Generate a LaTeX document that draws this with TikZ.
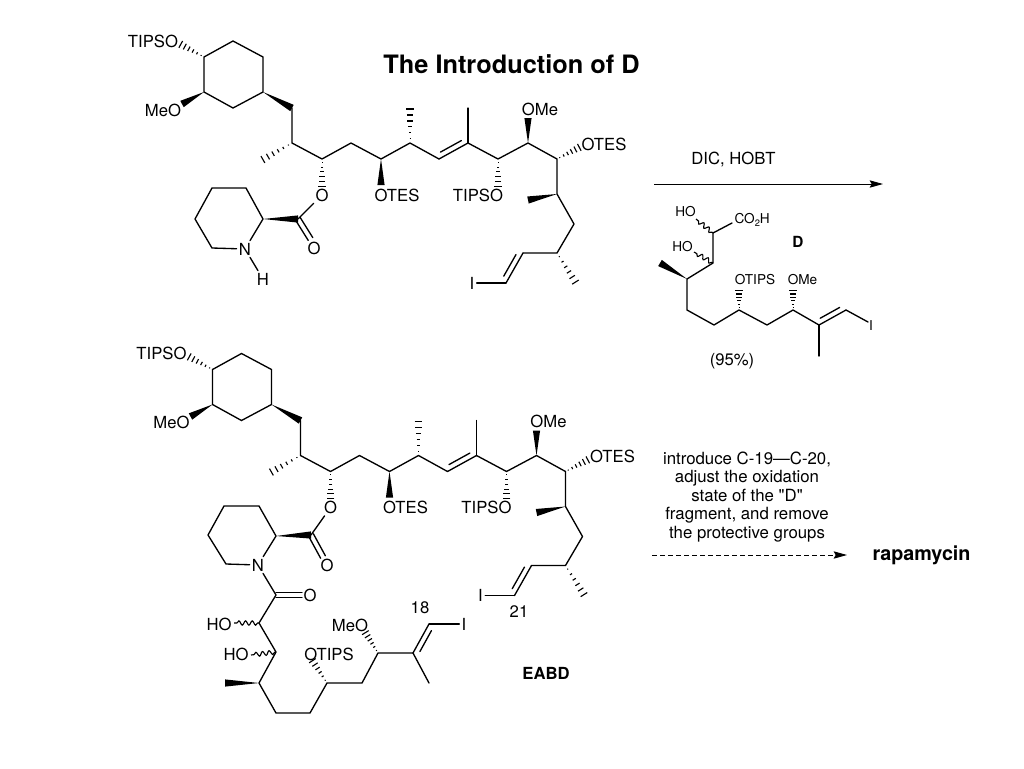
\documentclass[tikz,border=0pt]{standalone}
\usepackage{fontspec}
\setmainfont{TeX Gyre Heros}
\newfontfamily\plainq{TeX Gyre Heros}
\usetikzlibrary{calc,arrows.meta,decorations.pathmorphing}
\newcommand{\wdg}[3][2.7pt]{\fill[black] (#2) -- ($(#3)!#1!90:(#2)$) -- ($(#3)!#1!-90:(#2)$) -- cycle;}
\newcommand{\hsh}[2]{\foreach \t in {.12,.29,.46,.63,.80,.97}{\pgfmathsetmacro\hw{\t*3}\draw[line width=.85pt,line cap=butt] ($(#1)!\t!(#2)!\hw pt!90:(#2)$) -- ($(#1)!\t!(#2)!\hw pt!-90:(#2)$);}}
\newcommand{\dbl}[2]{\draw[bond] (#1) -- (#2); \draw[bond] ($(#1)!.14!(#2)!4pt!90:(#2)$) -- ($(#1)!.86!(#2)!4pt!90:(#2)$);}
\newcommand{\sym}[2]{\draw[bond] ($(#1)!2pt!90:(#2)$) -- ($(#2)!2pt!-90:(#1)$); \draw[bond] ($(#1)!2pt!-90:(#2)$) -- ($(#2)!2pt!90:(#1)$);}
\newcommand{\wavy}[2]{\draw[wavyb] (#1) -- (#2);}
% shared skeleton
\newcommand{\skeleton}[1]{
  \coordinate (#1a1) at (204,57); \coordinate (#1a2) at (233,41); \coordinate (#1a3) at (263,57);
  \coordinate (#1a4) at (263,92); \coordinate (#1a5) at (233,108); \coordinate (#1a6) at (204,92);
  \coordinate (#1b1) at (292,108); \coordinate (#1b2) at (292,143); \coordinate (#1b2m) at (262,160);
  \coordinate (#1b3) at (322,159); \coordinate (#1b4) at (351,143); \coordinate (#1b5) at (381,159);
  \coordinate (#1b6) at (410,143); \coordinate (#1b6m) at (410,108); \coordinate (#1b7) at (439,159);
  \coordinate (#1b8) at (468,143); \coordinate (#1b8m) at (468,108); \coordinate (#1b9) at (498,159);
  \coordinate (#1b10) at (528,143); \coordinate (#1b11) at (557,159); \coordinate (#1b12) at (557,194);
  \coordinate (#1b12m) at (528,200); \coordinate (#1b13) at (574,224); \coordinate (#1b14) at (557,253);
  \coordinate (#1b14m) at (576,283); \coordinate (#1b15) at (523,253); \coordinate (#1b16) at (506,283);
  \coordinate (#1e1) at (180,44); \coordinate (#1e2) at (182,104); \coordinate (#1e3) at (322,187);
  \coordinate (#1e4) at (381,185); \coordinate (#1e5) at (498,187); \coordinate (#1e6) at (528,118);
  \coordinate (#1e7) at (580,147);
  \node[atom] (#1tips) at (153,41) {TIPSO};
  \node[atom] (#1meo) at (163,110) {MeO};
  \node[atom] (#1oes) at (322,195) {O};
  \node[atom] (#1otes) at (397,195) {OTES};
  \node[atom] (#1tipsb) at (478,195) {TIPSO};
  \node[atom] (#1ome) at (540,109) {OMe};
  \node[atom] (#1otesb) at (604,144) {OTES};
  \node[atom] (#1iod) at (472,283) {I};
  \draw[bond,line join=miter] (#1a1) -- (#1a2) -- (#1a3) -- (#1a4) -- (#1a5) -- (#1a6) -- cycle;
  \draw[bond] (#1b1) -- (#1b2) -- (#1b3) -- (#1b4) -- (#1b5) -- (#1b6) -- (#1b7);
  \draw[bond] (#1b8) -- (#1b9) -- (#1b10) -- (#1b11) -- (#1b12) -- (#1b13) -- (#1b14) -- (#1b15);
  \draw[bond] (#1b8) -- (#1b8m);
  \draw[bond] (#1b16) -- (#1iod.east);
  \dbl{#1b7}{#1b8}
  \dbl{#1b16}{#1b15}
  \wdg{#1a4}{#1b1}
  \wdg{#1a6}{#1e2}
  \wdg{#1b5}{#1e4}
  \wdg{#1b10}{#1e6}
  \wdg{#1b12}{#1b12m}
  \hsh{#1a1}{#1e1}
  \hsh{#1b2}{#1b2m}
  \hsh{#1b3}{#1e3}
  \hsh{#1b6}{#1b6m}
  \hsh{#1b9}{#1e5}
  \hsh{#1b11}{#1e7}
  \hsh{#1b14}{#1b14m}
}
\begin{document}
\begin{tikzpicture}[x=.75pt,y=-.75pt,
  bond/.style={line width=1pt,line cap=round,line join=round},
  wavyb/.style={line width=.85pt,decorate,decoration={snake,amplitude=1.6pt,segment length=5pt,pre length=1pt,post length=1pt}},
  atom/.style={inner sep=0pt,outer sep=1.8pt,text height=9pt,text depth=0pt,font=\fontsize{12.5}{14}\selectfont},
  small/.style={inner sep=0pt,outer sep=1.5pt,text height=7.4pt,text depth=0pt,font=\fontsize{10.2}{12}\selectfont},
  rxn/.style={line width=.7pt,-{Stealth[length=10pt,width=5.5pt,inset=1.5pt]}}]
\useasboundingbox (0,0) rectangle (1024,768);
\node[inner sep=0pt,font=\fontsize{19}{22}\selectfont\bfseries] (title) at (511.5,64) {The Introduction of D};

% ---- upper structure
\skeleton{t}
\coordinate (tp1) at (263,219); \coordinate (tp2) at (246,188); \coordinate (tp3) at (212,188);
\coordinate (tp4) at (195,219); \coordinate (tp5) at (212,248); \coordinate (tc) at (298,219);
\coordinate (tce) at (310.5,239);
\node[atom] (tn) at (245,249) {N};
\node[atom] (th) at (263,279) {H};
\node[atom] (tod) at (314,248) {O};
\draw[bond] (tn) -- (tp5) -- (tp4) -- (tp3) -- (tp2) -- (tp1) -- (tn);
\draw[bond] (tn) -- (th);
\draw[bond] (tc) -- (toes);
\wdg{tp1}{tc}
\sym{tc}{tce}

% ---- reagent D
\node[atom] (dic) at (733.5,158) {DIC, HOBT};
\coordinate (arrA) at (654,184); \coordinate (arrB) at (883,184);
\draw[rxn] (arrA) -- (arrB);
\coordinate (d1) at (713,233); \coordinate (d2) at (713,263); \coordinate (d3) at (687,279);
\coordinate (d3m) at (660,263); \coordinate (d4) at (687,310); \coordinate (d5) at (714,325);
\coordinate (d6) at (739,310); \coordinate (d7) at (767,325); \coordinate (d8) at (793,310);
\coordinate (d9) at (819,325); \coordinate (d10) at (846,310); \coordinate (d9m) at (819,356);
\coordinate (dw1) at (696,219); \coordinate (dw2) at (694,252);
\coordinate (dh1) at (739,290); \coordinate (dh2) at (793,290);
\coordinate (dco) at (732,223);
\coordinate (di) at (868,322);
\node[small] (dho1) at (685.5,212) {HO};
\node[small] (dho2) at (682.5,247) {HO};
\node[small,anchor=west,outer sep=0pt] (dco2h) at (734.5,219) {CO\raisebox{-.2em}{\fontsize{7}{8}\selectfont 2}H};
\node[small] (dotips) at (755,280) {OTIPS};
\node[small] (dome) at (802.5,280) {OMe};
\node[small] (diod) at (871,326) {I};
\node[inner sep=0pt,font=\fontsize{11.5}{13}\selectfont\bfseries] (dlab) at (798,242) {D};
\node[atom] (yield) at (732,359) {(95\%)};
\draw[bond] (dco) -- (d1) -- (d2) -- (d3) -- (d4) -- (d5) -- (d6) -- (d7) -- (d8) -- (d9);
\draw[bond] (d10) -- (di);
\draw[bond] (d9) -- (d9m);
\dbl{d9}{d10}
\wdg{d3}{d3m}
\hsh{d6}{dh1}
\hsh{d8}{dh2}
\wavy{d1}{dw1}
\wavy{d2}{dw2}

% ---- lower structure
\begin{scope}[shift={(8.5,312.5)}]
\skeleton{b}
\end{scope}
\coordinate (bp1) at (276,536); \coordinate (bp2) at (259,506); \coordinate (bp3) at (224,506);
\coordinate (bp4) at (208,535); \coordinate (bp5) at (226,564); \coordinate (bc) at (311,535);
\coordinate (bce) at (323,557);
\coordinate (c0) at (276,595); \coordinate (c0e) at (302,595);
\coordinate (c1) at (259,623); \coordinate (c2) at (276,652); \coordinate (c3) at (259,683);
\coordinate (c3m) at (225,683); \coordinate (c4) at (276,713); \coordinate (c5) at (310,713);
\coordinate (c6) at (327,683); \coordinate (c7) at (362,683); \coordinate (c8) at (378,653);
\coordinate (c9) at (413,653); \coordinate (c10) at (429,624); \coordinate (c9m) at (429,683);
\coordinate (cw1) at (234,623); \coordinate (cw2) at (251,655);
\coordinate (ch1) at (312,660); \coordinate (ch2) at (365,632);
\node[atom] (bn) at (258,565) {N};
\node[atom] (bod) at (327,565) {O};
\node[atom] (boa) at (310,595) {O};
\node[atom] (cho1) at (219,624) {HO};
\node[atom] (cho2) at (236,654) {HO};
\node[atom] (cotips) at (329,654) {OTIPS};
\node[atom] (cmeo) at (350,625) {MeO};
\node[atom] (ciod) at (464,624) {I};
\node[atom] (n18) at (420,607) {18};
\node[atom] (n21) at (519,611) {21};
\node[inner sep=0pt,font=\fontsize{12.5}{14}\selectfont\bfseries] (eabd) at (546,673) {EABD};
\draw[bond] (bn) -- (bp5) -- (bp4) -- (bp3) -- (bp2) -- (bp1) -- (bn);
\draw[bond] (bc) -- (boes);
\draw[bond] (bn) -- (c0) -- (c1) -- (c2) -- (c3) -- (c4) -- (c5) -- (c6) -- (c7) -- (c8) -- (c9);
\draw[bond] (c9) -- (c9m);
\draw[bond] (c10) -- (ciod.west);
\wdg{bp1}{bc}
\wdg{c3}{c3m}
\sym{bc}{bce}
\sym{c0}{c0e}
\dbl{c10}{c9}
\hsh{c6}{ch1}
\hsh{c8}{ch2}
\wavy{c1}{cw1}
\wavy{c2}{cw2}

% ---- second reaction
\node[inner sep=0pt,align=center,font=\fontsize{12.6}{13.9}\selectfont] (conds) at (747,497)
  {introduce C-19—C-20,\\adjust the oxidation\\state of the {\plainq "}D{\plainq "}\\fragment, and remove\\the protective groups};
\coordinate (arrC) at (652,555); \coordinate (arrD) at (847,555);
\draw[rxn,dash pattern=on 3.4pt off 2.6pt] (arrC) -- (arrD);
\node[inner sep=0pt,font=\fontsize{14.8}{17}\selectfont\bfseries] (rapa) at (921.5,555) {rapamycin};
\end{tikzpicture}
\end{document}
